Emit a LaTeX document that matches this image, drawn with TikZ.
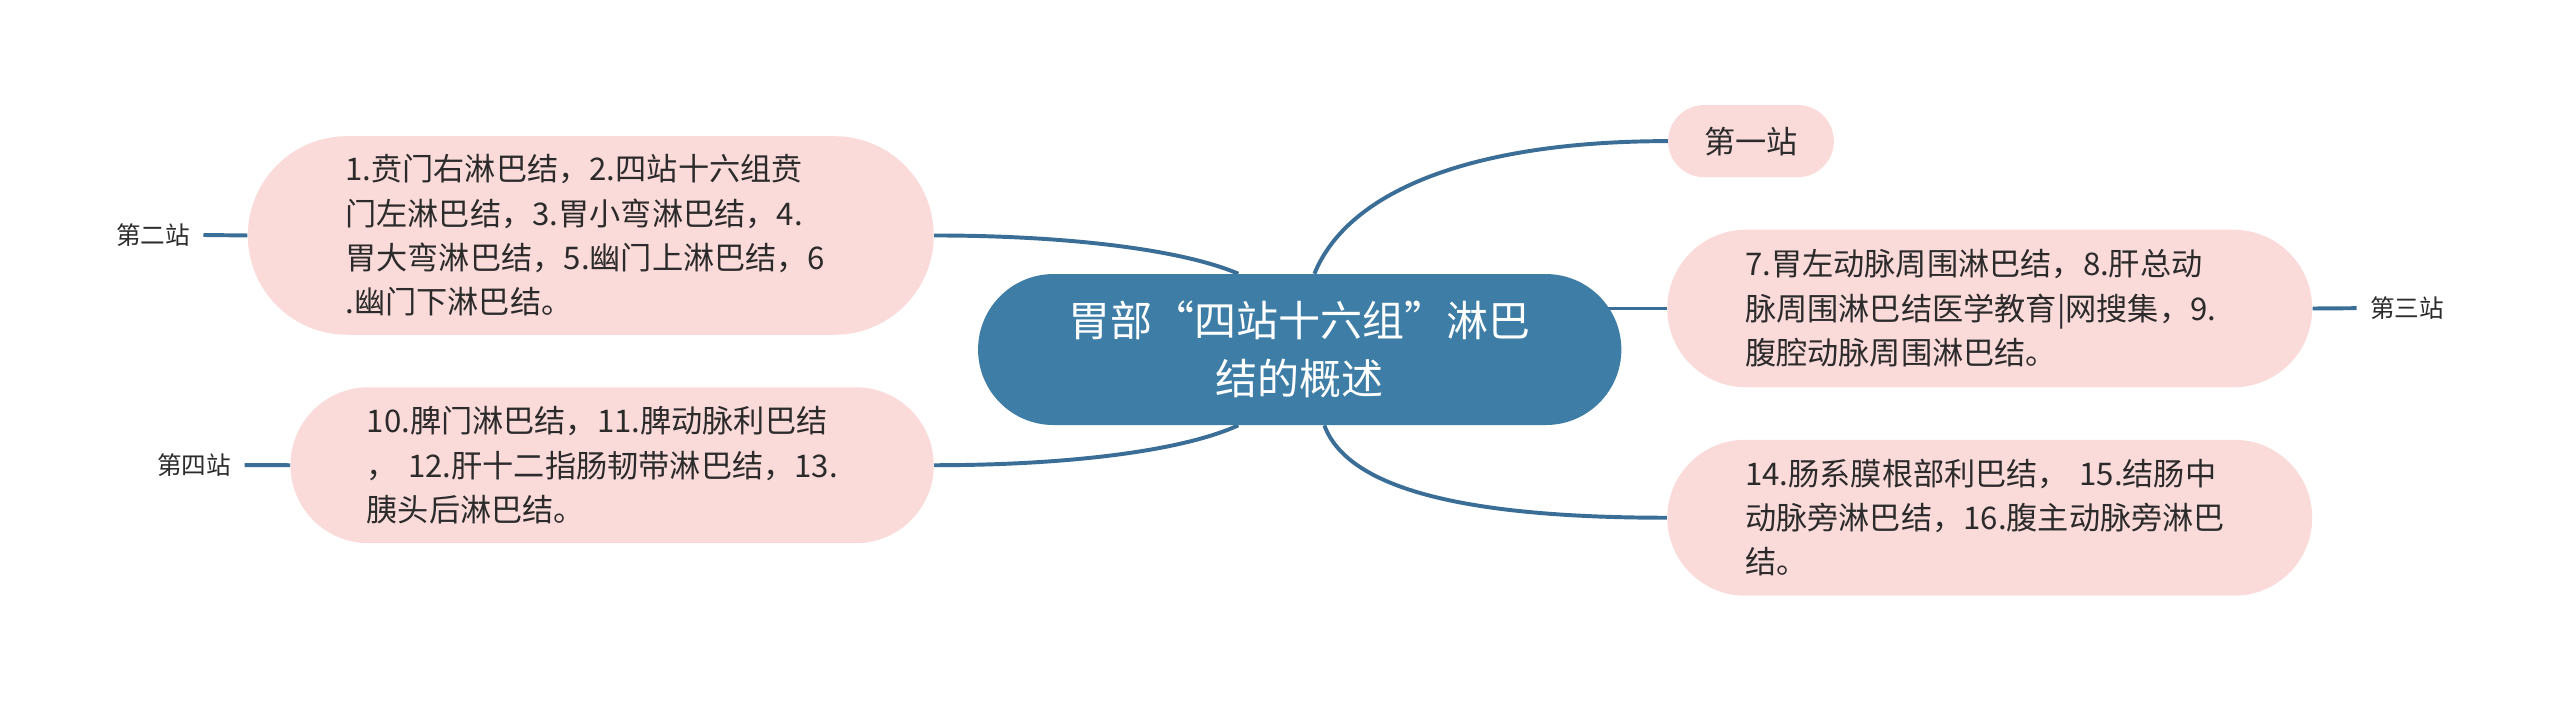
\documentclass[tikz,border=0pt]{standalone}
\usepackage{fontspec}
\setmainfont{Noto Sans CJK SC}
\usetikzlibrary{backgrounds}
\definecolor{rootblue}{HTML}{3E7EA6}
\definecolor{linkblue}{HTML}{3A6E96}
\definecolor{leafpink}{HTML}{FBDADA}
\definecolor{inkgray}{HTML}{2B2B2B}
\begin{document}
\begin{tikzpicture}[x=1pt,y=-1pt,
    leaf/.style={fill=leafpink, text=inkgray, inner sep=0pt, align=left,
      font=\fontsize{19}{27}\selectfont},
    tag/.style={text=inkgray, inner xsep=8pt, inner ysep=2pt, font=\fontsize{15}{17}\selectfont},
    link/.style={draw=linkblue, line width=2.4pt}]
      \useasboundingbox (0,0) rectangle (1560,427);
      \node[fill=rootblue, text=white, rounded corners=46pt, minimum width=392pt, minimum height=92pt,
        align=center, inner sep=0pt, font=\fontsize{25.6}{35}\selectfont] (root) at (792,213)
        {胃部“四站十六组”淋巴\\结的概述};
      \node[leaf, rounded corners=22pt, minimum width=101pt, minimum height=44pt] (first) at (1067,86) {第一站};
      \node[leaf, rounded corners=60.5pt, minimum width=418pt, minimum height=121pt, text width=299pt] (second) at (360,143.5)
        {1.贲门右淋巴结，2.四站十六组贲\\门左淋巴结，3.胃小弯淋巴结，4.\\胃大弯淋巴结，5.幽门上淋巴结，6\\.幽门下淋巴结。};
      \node[leaf, rounded corners=48pt, minimum width=393pt, minimum height=96pt, text width=298pt] (third) at (1212.5,188)
        {7.胃左动脉周围淋巴结，8.肝总动\\脉周围淋巴结医学教育|网搜集，9.\\腹腔动脉周围淋巴结。};
      \node[leaf, rounded corners=47.5pt, minimum width=392pt, minimum height=95pt, text width=299pt] (fourth) at (373,283.5)
        {10.脾门淋巴结，11.脾动脉利巴结\\， 12.肝十二指肠韧带淋巴结，13.\\胰头后淋巴结。};
      \node[leaf, rounded corners=47.5pt, minimum width=393pt, minimum height=95pt, text width=298pt] (fifth) at (1212.5,315.5)
        {14.肠系膜根部利巴结， 15.结肠中\\动脉旁淋巴结，16.腹主动脉旁淋巴\\结。};
      \node[tag, anchor=east] (tag2) at (124,143.2) {第二站};
      \node[tag, anchor=east] (tag4) at (149,283.4) {第四站};
      \node[tag, anchor=west] (tag3) at (1436,187.8) {第三站};
      \begin{scope}[on background layer]
        \draw[link] (root.79) .. controls (822,115) and (900,86) .. (first.west);
        \draw[link] (root.129) .. controls (720,152) and (650,143.5) .. (second.east);
        \draw[link] (root.231) .. controls (720,275) and (650,283.5) .. (fourth.east);
        \draw[link] (root.288) .. controls (822,300) and (900,315.5) .. (fifth.west);
        \draw[link] (third.west) -- (root.center |- third.west);
      \end{scope}
      \draw[link] (second.west) -- (tag2.east);
      \draw[link] (fourth.west) -- (tag4.east);
      \draw[link] (third.east) -- (tag3.west);
    \end{tikzpicture}
\end{document}
